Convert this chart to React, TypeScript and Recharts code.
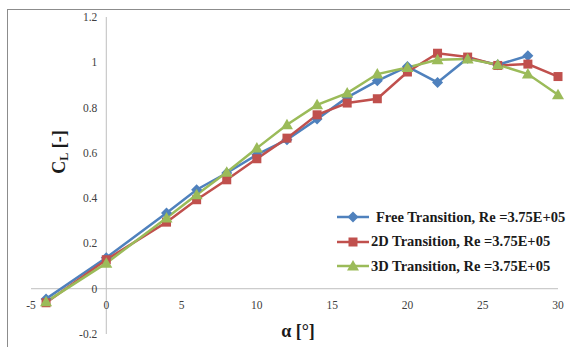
import React from "react";
import { LineChart, Line, XAxis, YAxis, ReferenceLine } from "recharts";

// ---- data ----
const alpha = [-4, 0, 4, 6, 8, 10, 12, 14, 16, 18, 20, 22, 24, 26, 28, 30];
const freeTransition = [-0.045, 0.137, 0.334, 0.437, 0.511, 0.592, 0.658, 0.749, 0.845, 0.918, 0.981, 0.911, 1.018, 0.989, 1.029, null];
const transition2D = [-0.062, 0.128, 0.294, 0.393, 0.481, 0.574, 0.665, 0.768, 0.82, 0.839, 0.957, 1.04, 1.023, 0.986, 0.992, 0.937];
const transition3D = [-0.058, 0.113, 0.312, 0.415, 0.514, 0.621, 0.724, 0.812, 0.864, 0.948, 0.977, 1.011, 1.015, 0.989, 0.948, 0.857];
const seriesNames = [
  "Free Transition, Re =3.75E+05",
  "2D Transition, Re =3.75E+05",
  "3D Transition, Re =3.75E+05",
];
const xTicks = [-5, 0, 5, 10, 15, 20, 25, 30];
const yTicks = [-0.2, 0, 0.2, 0.4, 0.6, 0.8, 1, 1.2];
const xDomain: [number, number] = [-5, 30];
const yDomain: [number, number] = [-0.2, 1.2];

const data = alpha.map((a, i) => ({
  alpha: a,
  free: freeTransition[i],
  d2: transition2D[i],
  d3: transition3D[i],
}));

// ---- layout ----
const W = 570;
const H = 347;
const AXW = 1;
const margin = { top: 17, right: 12, bottom: 12, left: 30 };
const plotLeft = margin.left + AXW;
const plotW = W - plotLeft - margin.right;
const plotH = H - margin.top - margin.bottom - AXW;
const X0 = plotLeft + (plotW * (0 - xDomain[0])) / (xDomain[1] - xDomain[0]);
const Y0 = margin.top + (plotH * (yDomain[1] - 0)) / (yDomain[1] - yDomain[0]);

const BLUE = "#4F81BD";
const RED = "#C0504D";
const GREEN = "#9BBB59";
const FONT = "'Liberation Serif', 'Times New Roman', serif";
const AXIS = "#bfbfbf";

const Diamond = ({ cx, cy, fill }: any) =>
  cx == null || cy == null ? null : (
    <path d={`M${cx},${cy - 5.5} L${cx + 5.5},${cy} L${cx},${cy + 5.5} L${cx - 5.5},${cy} Z`} fill={fill} />
  );
const Square = ({ cx, cy, fill }: any) =>
  cx == null || cy == null ? null : <rect x={cx - 4.5} y={cy - 4.5} width={9} height={9} fill={fill} />;
const Triangle = ({ cx, cy, fill }: any) =>
  cx == null || cy == null ? null : (
    <path d={`M${cx},${cy - 6} L${cx + 6},${cy + 4.5} L${cx - 6},${cy + 4.5} Z`} fill={fill} />
  );

const markers = [Diamond, Square, Triangle];
const colors = [BLUE, RED, GREEN];

const YTick = ({ y, payload }: any) => (
  <text x={X0 - 9} y={y} dy={4} textAnchor="end" fontFamily={FONT} fontSize={11.5} fill="#404040">
    {payload.value}
  </text>
);
const XTick = ({ x, payload }: any) => (
  <text x={x} y={Y0 + 20} textAnchor="middle" fontFamily={FONT} fontSize={11.5} fill="#404040">
    {payload.value}
  </text>
);

const LegendBox = () => (
  <div style={{ fontFamily: FONT, fontWeight: "bold", fontSize: 14.5, color: "#1a1a1a" }}>
    {seriesNames.map((name, i) => {
      const M = markers[i];
      return (
        <div key={name} style={{ display: "flex", alignItems: "center", height: 24.5, whiteSpace: "nowrap" }}>
          <svg width={34} height={14} style={{ display: "block" }}>
            <line x1={1} y1={7} x2={33} y2={7} stroke={colors[i]} strokeWidth={2.5} />
            <M cx={17} cy={7} fill={colors[i]} />
          </svg>
          <span style={{ marginLeft: i === 0 ? 6 : 1 }}>{name}</span>
        </div>
      );
    })}
  </div>
);

export default function App() {
  return (
    <div style={{ position: "absolute", left: 0, top: 0, width: W, height: H, overflow: "hidden", background: "#fff" }}>
      <div
        style={{
          position: "absolute",
          left: 7,
          top: 9,
          width: 700,
          height: 500,
          borderLeft: "1px solid #8c8c8c",
          borderTop: "1px solid #8c8c8c",
        }}
      />
      <div style={{ position: "absolute", left: 0, top: 0 }}>
        <LineChart width={W} height={H} data={data} margin={margin}>
          <XAxis
            dataKey="alpha"
            type="number"
            domain={xDomain}
            ticks={xTicks}
            height={AXW}
            axisLine={false}
            tickLine={false}
            tick={<XTick />}
            interval={0}
            label={{
              content: () => (
                <text x={298} y={337} textAnchor="middle" fontFamily={FONT} fontWeight="bold" fontSize={18} fill="#1a1a1a">
                  α [°]
                </text>
              ),
            }}
          />
          <YAxis
            type="number"
            domain={yDomain}
            ticks={yTicks}
            width={AXW}
            axisLine={false}
            tickLine={false}
            tick={<YTick />}
            interval={0}
            label={{
              content: () => (
                <text
                  x={61}
                  y={152}
                  transform="rotate(-90, 61, 152)"
                  textAnchor="middle"
                  dominantBaseline="middle"
                  fontFamily={FONT}
                  fontWeight="bold"
                  fontSize={18}
                  fill="#1a1a1a"
                >
                  C<tspan fontSize={12} dy={4}>L</tspan>
                  <tspan dy={-4}> [-]</tspan>
                </text>
              ),
            }}
          />
          <ReferenceLine x={0} stroke={AXIS} strokeWidth={1} />
          <ReferenceLine y={0} stroke={AXIS} strokeWidth={1} />
          <Line
            dataKey="free"
            name={seriesNames[0]}
            stroke={BLUE}
            strokeWidth={2.5}
            dot={(p: any) => <Diamond key={`f${p.index}`} cx={p.cx} cy={p.cy} fill={BLUE} />}
            activeDot={false}
            isAnimationActive={false}
            connectNulls={false}
          />
          <Line
            dataKey="d2"
            name={seriesNames[1]}
            stroke={RED}
            strokeWidth={2.5}
            dot={(p: any) => <Square key={`r${p.index}`} cx={p.cx} cy={p.cy} fill={RED} />}
            activeDot={false}
            isAnimationActive={false}
          />
          <Line
            dataKey="d3"
            name={seriesNames[2]}
            stroke={GREEN}
            strokeWidth={2.5}
            dot={(p: any) => <Triangle key={`g${p.index}`} cx={p.cx} cy={p.cy} fill={GREEN} />}
            activeDot={false}
            isAnimationActive={false}
          />
        </LineChart>
      </div>
      <div style={{ position: "absolute", left: 336, top: 205 }}>
        <LegendBox />
      </div>
    </div>
  );
}
